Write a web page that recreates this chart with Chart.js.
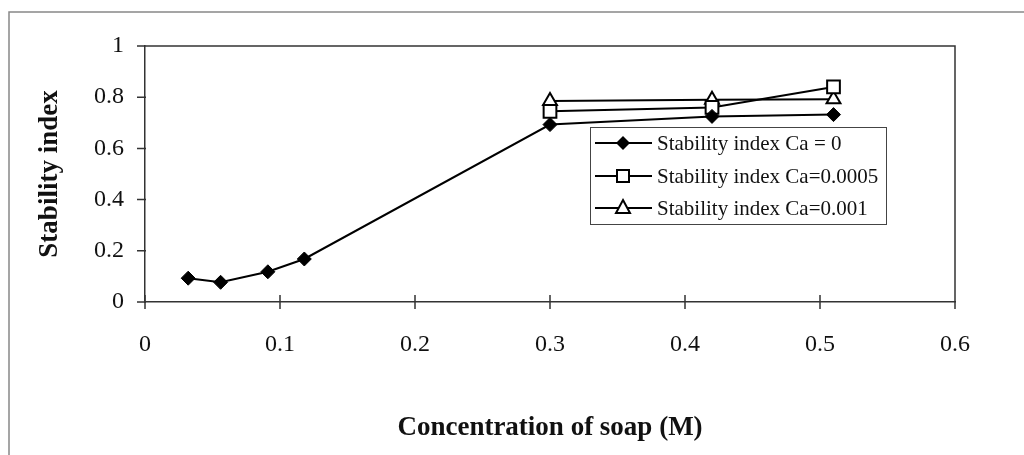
<!DOCTYPE html>
<html>
<head>
<meta charset="utf-8">
<script src="https://cdn.jsdelivr.net/npm/chart.js@4/dist/chart.umd.min.js"></script>
<style>
  html, body { margin: 0; padding: 0; background: #fff; }
  #wrap { width: 1024px; height: 455px; position: relative; }
</style>
</head>
<body>
<div id="wrap"><canvas id="stabilityChart" width="1024" height="455"></canvas></div>
<script>
// soap concentration (M) and stability index
const soapCa0 = [0.032, 0.056, 0.091, 0.118, 0.3, 0.42, 0.51];
const stabCa0 = [0.093, 0.077, 0.118, 0.168, 0.693, 0.725, 0.732];
const soapCa0005 = [0.3, 0.42, 0.51];
const stabCa0005 = [0.745, 0.76, 0.84];
const soapCa001 = [0.3, 0.42, 0.51];
const stabCa001 = [0.785, 0.79, 0.792];

const seriesLabels = ['Stability index Ca = 0', 'Stability index Ca=0.0005', 'Stability index Ca=0.001'];
const xTicks = [0, 0.1, 0.2, 0.3, 0.4, 0.5, 0.6];
const yTicks = [0, 0.2, 0.4, 0.6, 0.8, 1];

const serif = '"Liberation Serif", "Times New Roman", serif';

function toPoints(xs, ys) {
    return xs.map((x, i) => ({ x: x, y: ys[i] }));
}

// marker drawing for the legend box
function drawMarker(ctx, style, x, y) {
    ctx.save();
    ctx.lineWidth = 2;
    ctx.strokeStyle = '#000';
    ctx.beginPath();
    if (style === 'rectRot') {
        ctx.moveTo(x - 7, y); ctx.lineTo(x, y - 7); ctx.lineTo(x + 7, y); ctx.lineTo(x, y + 7);
        ctx.closePath();
        ctx.fillStyle = '#000';
        ctx.fill();
    } else if (style === 'rect') {
        ctx.rect(x - 6, y - 6, 12, 12);
        ctx.fillStyle = '#fff';
        ctx.fill(); ctx.stroke();
    } else {
        ctx.moveTo(x, y - 8); ctx.lineTo(x + 7, y + 5); ctx.lineTo(x - 7, y + 5);
        ctx.closePath();
        ctx.fillStyle = '#fff';
        ctx.fill(); ctx.stroke();
    }
    ctx.restore();
}

const framePlugin = {
    id: 'frame',
    beforeDraw(chart) {
        const ctx = chart.ctx;
        ctx.save();
        ctx.strokeStyle = '#888';
        ctx.lineWidth = 1.5;
        ctx.beginPath();
        ctx.moveTo(9, 455); ctx.lineTo(9, 12); ctx.lineTo(1024, 12);
        ctx.stroke();
        ctx.restore();
    },
    afterDatasetsDraw(chart) {
        const ctx = chart.ctx;
        const a = chart.chartArea;
        const xs = chart.scales.x, ys = chart.scales.y;
        ctx.save();
        ctx.strokeStyle = '#333';
        ctx.lineWidth = 1.5;
        ctx.beginPath();
        ctx.moveTo(a.left, a.top); ctx.lineTo(a.right, a.top); ctx.lineTo(a.right, a.bottom);
        xTicks.forEach(v => {
            const px = xs.getPixelForValue(v);
            ctx.moveTo(px, a.bottom - 7); ctx.lineTo(px, a.bottom + 7);
        });
        yTicks.forEach(v => {
            const py = ys.getPixelForValue(v);
            ctx.moveTo(a.left - 8, py); ctx.lineTo(a.left + 1, py);
        });
        ctx.stroke();

        // legend box
        const bx = 590, by = 127, bw = 296, bh = 97;
        ctx.fillStyle = '#fff';
        ctx.fillRect(bx, by, bw, bh);
        ctx.strokeStyle = '#444';
        ctx.lineWidth = 1;
        ctx.strokeRect(bx + 0.5, by + 0.5, bw, bh);
        const rows = [143, 176, 208];
        chart.data.datasets.forEach((ds, i) => {
            const y = rows[i];
            ctx.strokeStyle = '#000';
            ctx.lineWidth = 2;
            ctx.beginPath();
            ctx.moveTo(595, y); ctx.lineTo(652, y);
            ctx.stroke();
            drawMarker(ctx, ds.pointStyle, 623, y);
            ctx.fillStyle = '#111';
            ctx.font = '21px ' + serif;
            ctx.textBaseline = 'middle';
            ctx.textAlign = 'left';
            ctx.fillText(ds.label, 657, y + 1);
        });
        ctx.restore();
    }
};

new Chart(document.getElementById('stabilityChart'), {
    type: 'line',
    data: {
        datasets: [
            {
                label: seriesLabels[0],
                data: toPoints(soapCa0, stabCa0),
                borderColor: '#000',
                backgroundColor: '#000',
                borderWidth: 2,
                pointStyle: 'rectRot',
                pointRadius: 7,
                pointBorderWidth: 1,
                tension: 0
            },
            {
                label: seriesLabels[1],
                data: toPoints(soapCa0005, stabCa0005),
                borderColor: '#000',
                backgroundColor: '#fff',
                borderWidth: 2,
                pointStyle: 'rect',
                pointRadius: 9,
                pointBorderWidth: 2,
                tension: 0
            },
            {
                label: seriesLabels[2],
                data: toPoints(soapCa001, stabCa001),
                borderColor: '#000',
                backgroundColor: '#fff',
                borderWidth: 2,
                pointStyle: 'triangle',
                pointRadius: 8,
                pointBorderWidth: 2,
                tension: 0
            }
        ]
    },
    options: {
        responsive: false,
        animation: false,
        layout: { padding: { left: 0, right: 69, top: 46, bottom: 0 } },
        plugins: {
            legend: { display: false },
            tooltip: { enabled: false }
        },
        scales: {
            x: {
                type: 'linear',
                min: 0,
                max: 0.6,
                afterBuildTicks: s => { s.ticks = xTicks.map(v => ({ value: v })); },
                afterFit: s => { s.height = 153; },
                grid: { display: false, drawTicks: false },
                border: { display: true, color: '#333', width: 1.5 },
                ticks: {
                    padding: 28,
                    color: '#111',
                    font: { family: serif, size: 24 },
                    callback: v => String(v)
                },
                title: {
                    display: true,
                    text: 'Concentration of soap (M)',
                    color: '#111',
                    font: { family: serif, size: 27, weight: 'bold' },
                    padding: { top: 0, bottom: 11 }
                }
            },
            y: {
                min: 0,
                max: 1,
                afterBuildTicks: s => { s.ticks = yTicks.map(v => ({ value: v })); },
                afterFit: s => { s.width = 145; },
                grid: { display: false, drawTicks: false },
                border: { display: true, color: '#333', width: 1.5 },
                ticks: {
                    padding: 21,
                    color: '#111',
                    font: { family: serif, size: 24 },
                    callback: v => String(v)
                },
                title: {
                    display: true,
                    text: 'Stability index',
                    color: '#111',
                    font: { family: serif, size: 27, weight: 'bold' },
                    padding: { top: 34, bottom: 0 }
                }
            }
        }
    },
    plugins: [framePlugin]
});
</script>
</body>
</html>
